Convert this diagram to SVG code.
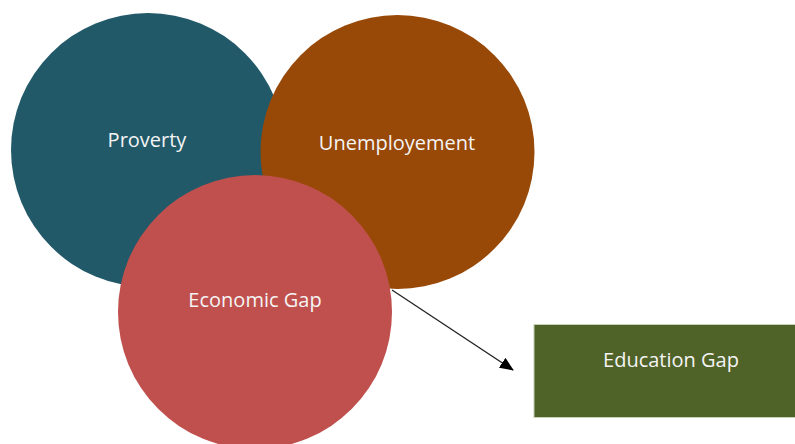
<svg xmlns="http://www.w3.org/2000/svg" width="795" height="444" viewBox="0 0 795 444">
<style>
.lbl{font-family:"Open Sans","Liberation Sans",sans-serif;font-size:20px;fill:#f4f4f4;text-anchor:middle}
</style>
<defs>
<marker id="ah" markerWidth="14" markerHeight="12" refX="13" refY="6" orient="auto" markerUnits="userSpaceOnUse" viewBox="0 0 14 12">
<path d="M0,0 L14,6 L0,12 z" fill="#000"/>
</marker>
</defs>
<rect width="795" height="444" fill="#fff"/>
<g id="proverty">
<circle cx="148" cy="150" r="137" fill="#215968"/>
<text class="lbl" x="147" y="147">Proverty</text>
</g>
<g id="unemployement">
<circle cx="397.5" cy="152" r="137" fill="#984807"/>
<text class="lbl" x="397" y="150">Unemployement</text>
</g>
<g id="economic-gap">
<circle cx="255" cy="312" r="137" fill="#C0504D"/>
<text class="lbl" x="255" y="307">Economic Gap</text>
</g>
<g id="education-gap">
<rect x="534" y="324.5" width="263" height="93" fill="#4F6228" stroke="#c8d0b8" stroke-width="1"/>
<text class="lbl" x="671" y="367">Education Gap</text>
</g>
<g id="connectors">
<line x1="392" y1="290" x2="513" y2="370" stroke="#222" stroke-width="1.3" marker-end="url(#ah)"/>
</g>
</svg>
